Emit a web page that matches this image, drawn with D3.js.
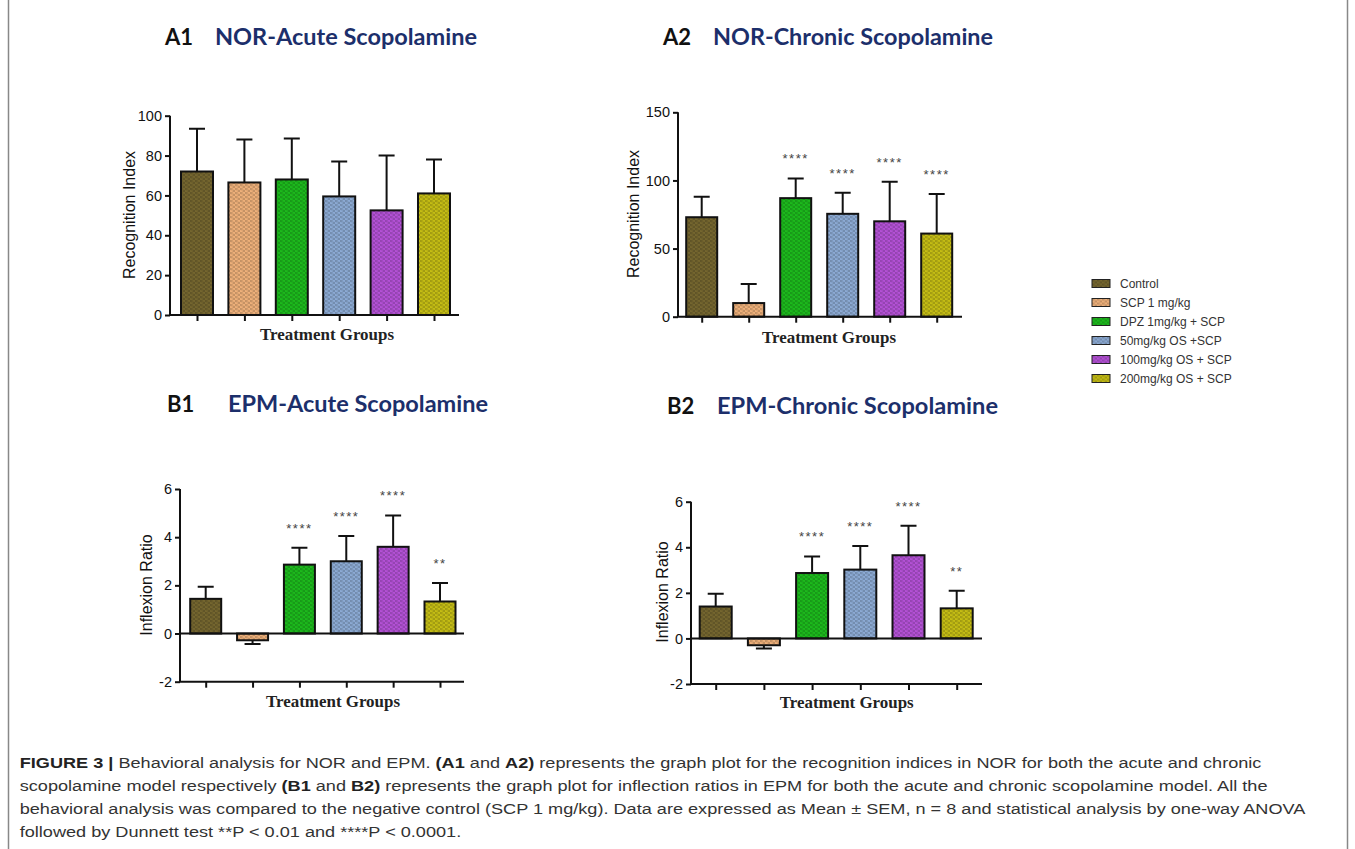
<!DOCTYPE html>
<html>
<head>
<meta charset="utf-8">
<script src="https://cdn.jsdelivr.net/npm/d3@7"></script>
<style>
  body { margin: 0; background: #fff; }
  svg { display: block; }
</style>
</head>
<body>
<svg width="1355" height="849"></svg>
<script>
// groups and colours
const groups = ["Control", "SCP 1 mg/kg", "DPZ 1mg/kg + SCP", "50mg/kg OS +SCP", "100mg/kg OS + SCP", "200mg/kg OS + SCP"];
const groupColors = ["#75662f", "#eeb07a", "#1cba1c", "#8caad4", "#b451d6", "#c5bd14"];

// means and SEM
const norAcuteMean = [72, 66.5, 68, 59.5, 52.5, 61];
const norAcuteSem = [21.5, 21.5, 20.5, 17.5, 27.5, 17];
const norChronicMean = [73, 10, 87, 75.5, 70, 61];
const norChronicSem = [15, 14, 14.5, 15.5, 29, 29];
const epmAcuteMean = [1.44, -0.28, 2.86, 3.0, 3.6, 1.33];
const epmAcuteSem = [0.5, 0.16, 0.7, 1.05, 1.3, 0.77];
const epmChronicMean = [1.4, -0.3, 2.87, 3.02, 3.65, 1.32];
const epmChronicSem = [0.56, 0.14, 0.73, 1.04, 1.29, 0.77];

const norAcuteStars = ["", "", "", "", "", ""];
const norChronicStars = ["", "", "****", "****", "****", "****"];
const epmStars = ["", "", "****", "****", "****", "**"];

const norAcuteTicks = [0, 20, 40, 60, 80, 100];
const norChronicTicks = [0, 50, 100, 150];
const epmTicks = [-2, 0, 2, 4, 6];

const captionLines = [
  [["FIGURE 3 | ", true], ["Behavioral analysis for NOR and EPM. ", false], ["(A1", true], [" and ", false], ["A2)", true], [" represents the graph plot for the recognition indices in NOR for both the acute and chronic", false]],
  [["scopolamine model respectively ", false], ["(B1", true], [" and ", false], ["B2)", true], [" represents the graph plot for inflection ratios in EPM for both the acute and chronic scopolamine model. All the", false]],
  [["behavioral analysis was compared to the negative control (SCP 1 mg/kg). Data are expressed as Mean \u00b1 SEM, n = 8 and statistical analysis by one-way ANOVA", false]],
  [["followed by Dunnett test **P < 0.01 and ****P < 0.0001.", false]]
];

const svg = d3.select("svg");

// frame
svg.append("rect")
  .attr("x", 8.5).attr("y", -20).attr("width", 1339).attr("height", 900)
  .attr("fill", "none").attr("stroke", "#888").attr("stroke-width", 1.5);

// textured fills
const defs = svg.append("defs");
groupColors.forEach((c, i) => {
  const p = defs.append("pattern")
    .attr("id", "tex" + i)
    .attr("patternUnits", "userSpaceOnUse")
    .attr("width", 5).attr("height", 4);
  p.append("rect").attr("width", 5).attr("height", 4).attr("fill", c);
  p.append("path")
    .attr("d", "M0.2,1 a1.1,0.8 0 1,0 2.2,0 a1.1,0.8 0 1,0 -2.2,0 M2.7,3 a1.1,0.8 0 1,0 2.2,0 a1.1,0.8 0 1,0 -2.2,0")
    .attr("fill", "none")
    .attr("stroke", d3.color(c).darker(1))
    .attr("stroke-width", 0.7);
});

const panels = [
  { tag: "A1", title: "NOR-Acute Scopolamine", tagX: 165, titleX: 215, titleW: 262, titleY: 45,
    mean: norAcuteMean, sem: norAcuteSem, stars: norAcuteStars, ticks: norAcuteTicks,
    ylabel: "Recognition Index", ylabX: 129, ylabY: 215,
    x0: 170, x1: 459, yTop: 115.7, yBot: 315, c0: 197, c1: 434, bw: 32, xlabX: 327, xlabY: 340 },
  { tag: "A2", title: "NOR-Chronic Scopolamine", tagX: 663, titleX: 713, titleW: 280, titleY: 45,
    mean: norChronicMean, sem: norChronicSem, stars: norChronicStars, ticks: norChronicTicks,
    ylabel: "Recognition Index", ylabX: 633, ylabY: 214,
    x0: 678, x1: 962, yTop: 112.3, yBot: 316.7, c0: 701.7, c1: 936.7, bw: 31, xlabX: 829, xlabY: 342.5 },
  { tag: "B1", title: "EPM-Acute Scopolamine", tagX: 167, titleX: 228, titleW: 260, titleY: 411.5,
    mean: epmAcuteMean, sem: epmAcuteSem, stars: epmStars, ticks: epmTicks,
    ylabel: "Inflexion Ratio", ylabX: 146.5, ylabY: 585,
    x0: 180, x1: 464, yTop: 489, yBot: 681.7, c0: 205.7, c1: 440, bw: 31, xlabX: 333, xlabY: 706.5 },
  { tag: "B2", title: "EPM-Chronic Scopolamine", tagX: 667, titleX: 717, titleW: 281, titleY: 414,
    mean: epmChronicMean, sem: epmChronicSem, stars: epmStars, ticks: epmTicks,
    ylabel: "Inflexion Ratio", ylabX: 662.5, ylabY: 592,
    x0: 691, x1: 982, yTop: 501.7, yBot: 684, c0: 715.7, c1: 956.7, bw: 32, xlabX: 846.7, xlabY: 708 }
];

panels.forEach((pn) => {
  const g = svg.append("g");
  const data = groups.map((name, i) => ({ name, i, mean: pn.mean[i], sem: pn.sem[i], star: pn.stars[i] }));

  const x = d3.scalePoint().domain(groups).range([pn.c0, pn.c1]);
  const y = d3.scaleLinear().domain(d3.extent(pn.ticks)).range([pn.yBot, pn.yTop]);

  // titles
  g.append("text").attr("x", pn.tagX).attr("y", pn.titleY)
    .attr("font-family", "Lato").attr("font-weight", 700).attr("font-size", 22)
    .attr("fill", "#111").text(pn.tag);
  g.append("text").attr("x", pn.titleX).attr("y", pn.titleY)
    .attr("font-family", "Lato").attr("font-weight", 700).attr("font-size", 22)
    .attr("fill", "#1c2f6b")
    .attr("textLength", pn.titleW).attr("lengthAdjust", "spacingAndGlyphs")
    .text(pn.title);

  // bars
  g.selectAll("rect.bar").data(data).join("rect")
    .attr("class", "bar")
    .attr("x", (d) => x(d.name) - pn.bw / 2)
    .attr("width", pn.bw)
    .attr("y", (d) => Math.min(y(d.mean), y(0)))
    .attr("height", (d) => Math.abs(y(d.mean) - y(0)))
    .attr("fill", (d) => "url(#tex" + d.i + ")")
    .attr("stroke", "#111").attr("stroke-width", 2);

  // error bars (away from zero)
  const errEnd = (d) => d.mean >= 0 ? d.mean + d.sem : d.mean - d.sem;
  g.selectAll("path.err").data(data).join("path")
    .attr("class", "err")
    .attr("d", (d) => {
      const cx = x(d.name), ya = y(d.mean), yb = y(errEnd(d));
      return `M${cx},${ya}V${yb}M${cx - 8},${yb}H${cx + 8}`;
    })
    .attr("fill", "none").attr("stroke", "#111").attr("stroke-width", 2);

  // significance stars
  g.selectAll("text.star").data(data.filter((d) => d.star)).join("text")
    .attr("class", "star")
    .attr("x", (d) => x(d.name))
    .attr("y", (d) => y(errEnd(d)) - 15)
    .attr("text-anchor", "middle")
    .attr("font-family", "Liberation Sans, Arial").attr("font-size", 13)
    .attr("letter-spacing", 1.5)
    .attr("fill", "#444").text((d) => d.star);

  // y axis
  const yAxis = g.append("g").attr("transform", `translate(${pn.x0},0)`)
    .call(d3.axisLeft(y).tickValues(pn.ticks).tickSize(5).tickPadding(3).tickFormat((d) => String(d)));
  yAxis.select(".domain").attr("d", `M0,${pn.yTop}V${pn.yBot}`).attr("stroke", "#111").attr("stroke-width", 2);
  yAxis.selectAll(".tick line").attr("stroke", "#111").attr("stroke-width", 2);
  yAxis.selectAll(".tick text").attr("font-family", "Liberation Sans, Arial").attr("font-size", 14.5).attr("fill", "#111");

  // x axis at bottom, ticks at group centres
  const xAxis = g.append("g").attr("transform", `translate(0,${pn.yBot})`)
    .call(d3.axisBottom(x).tickSize(6).tickFormat(""));
  xAxis.select(".domain").attr("d", `M${pn.x0 - 1},0H${pn.x1}`).attr("stroke", "#111").attr("stroke-width", 2);
  xAxis.selectAll(".tick line").attr("stroke", "#111").attr("stroke-width", 2);

  // zero line when the axis goes below zero
  if (y.domain()[0] < 0) {
    g.append("line")
      .attr("x1", pn.x0).attr("x2", pn.x1)
      .attr("y1", y(0)).attr("y2", y(0))
      .attr("stroke", "#111").attr("stroke-width", 2);
  }

  // axis titles
  g.append("text")
    .attr("transform", `translate(${pn.ylabX},${pn.ylabY}) rotate(-90)`)
    .attr("text-anchor", "middle").attr("dy", "0.35em")
    .attr("font-family", "Liberation Sans, Arial").attr("font-size", 16)
    .attr("fill", "#111").text(pn.ylabel);
  g.append("text")
    .attr("x", pn.xlabX).attr("y", pn.xlabY)
    .attr("text-anchor", "middle")
    .attr("font-family", "Liberation Serif, Times New Roman").attr("font-weight", 700).attr("font-size", 16)
    .attr("textLength", 134).attr("lengthAdjust", "spacingAndGlyphs")
    .attr("fill", "#222").text("Treatment Groups");
});

// legend
const legend = svg.append("g").attr("transform", "translate(1092,283.5)");
const row = legend.selectAll("g").data(groups).join("g")
  .attr("transform", (d, i) => `translate(0,${i * 19})`);
row.append("rect")
  .attr("x", 0).attr("y", -4).attr("width", 18).attr("height", 8)
  .attr("fill", (d, i) => "url(#tex" + i + ")")
  .attr("stroke", "#222").attr("stroke-width", 1);
row.append("text")
  .attr("x", 28).attr("y", 4.5)
  .attr("font-family", "Liberation Sans, Arial").attr("font-size", 12)
  .attr("fill", "#333").text((d) => d);

// caption
const cap = svg.append("g").attr("transform", "translate(19.7,0)");
const capTexts = captionLines.map((line, li) => {
  const t = cap.append("text")
    .attr("x", 0).attr("y", 768.5 + li * 23)
    .attr("font-family", "Liberation Sans, Arial").attr("font-size", 15)
    .attr("fill", "#333");
  line.forEach(([s, bold]) => {
    t.append("tspan").attr("font-weight", bold ? 700 : 400)
      .attr("fill", bold ? "#222" : "#333").text(s);
  });
  return t;
});
// the figure's caption face is wider than ours: stretch horizontally to match line one
const natural = capTexts[0].node().getComputedTextLength();
cap.attr("transform", `translate(19.7,0) scale(${1243 / natural},1)`);
</script>
</body>
</html>
